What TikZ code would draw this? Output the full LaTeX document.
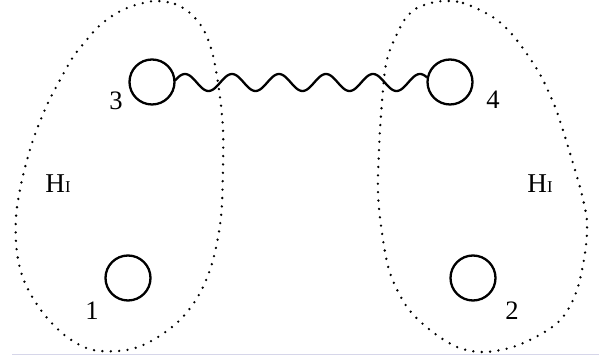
\documentclass[tikz,border=0pt]{standalone}
\usepackage{fontspec}
\setmainfont{Liberation Serif}
\begin{document}
\begin{tikzpicture}[x=0.5pt,y=-0.5pt,
  ball/.style={circle,draw,line width=1.15pt,minimum size=22.5pt,inner sep=0pt},
  blob/.style={line width=1.3pt,line cap=round,dash pattern=on 0pt off 4.2pt},
  num/.style={inner sep=0pt,font=\fontsize{13.3}{15}\selectfont},
  hlab/.style={inner sep=0pt},
  wave/.style={line width=1.15pt}]
\useasboundingbox (0,0) rectangle (599,362);
\draw[draw=blue!30!gray!25, line width=0.5pt] (12,355) -- (599,355);
% left region
\draw[blob] plot[smooth cycle, tension=0.55] coordinates {
 (157,1) (175,4) (190,13) (202,27) (210,45) (215,65) (220,97) (223,130)
 (223,167) (221,217) (213,260) (200,293) (180,320) (153,340) (127,350)
 (93,350) (67,337) (43,313) (25,283) (17,253) (16,217) (22,180) (33,140)
 (47,105) (60,80) (73,57) (85,42) (97,28) (112,16) (127,8) (143,3)};
% right region
\draw[blob] plot[smooth cycle, tension=0.55] coordinates {
 (450,1) (463,3) (480,10) (497,20) (510,32) (522,47) (533,63) (542,78)
 (550,95) (557,112) (566,140) (575,170) (582,195) (587,222) (585,253)
 (577,290) (563,317) (543,333) (513,347) (483,352) (457,347) (430,330)
 (407,307) (390,273) (382,233) (378,193) (379,150) (381,115) (385,70)
 (390,50) (397,34) (405,19) (417,8) (435,2)};
% particles
\node[ball] (c3) at (152,82) {};
\node[ball] (c4) at (450,82) {};
\node[ball] (c1) at (128,278) {};
\node[ball] (c2) at (473,278) {};
% labels
\node[num] (l3) at (116,101) {3};
\node[num] (l4) at (493,100) {4};
\node[num] (l1) at (92,311) {1};
\node[num] (l2) at (512,311) {2};
\node[hlab] (h1) at (58,184) {{\fontsize{13.6}{15}\selectfont H}{\fontsize{8.3}{10}\selectfont I}};
\node[hlab] (h2) at (540,184) {{\fontsize{13.6}{15}\selectfont H}{\fontsize{8.3}{10}\selectfont I}};
% wavy interaction line between 3 and 4
\draw[wave] plot[domain=175:427, samples=220, smooth] (\x,{82.5-8.5*sin(7.6596*(\x-173.25))});
\end{tikzpicture}
\end{document}
